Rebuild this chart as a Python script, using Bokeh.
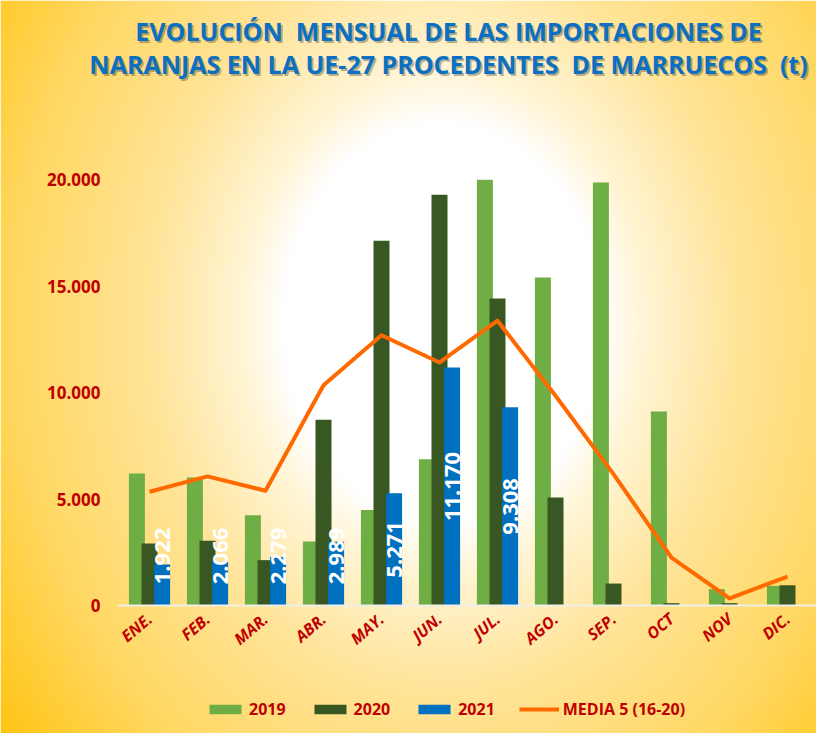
import numpy as np
from bokeh.plotting import figure
from bokeh.models import (Range1d, LinearAxis, FixedTicker, Label, Legend,
                          LegendItem, ColumnDataSource)
from bokeh.core.properties import value
from bokeh.embed import file_html
from bokeh.resources import INLINE

# ---------------- data ----------------
months = ["ENE.", "FEB.", "MAR.", "ABR.", "MAY.", "JUN.", "JUL.", "AGO.",
          "SEP.", "OCT", "NOV", "DIC."]
imp_2019 = [6200, 6010, 4240, 3000, 4480, 6870, 19990, 15400, 19860, 9110, 770, 920]
imp_2020 = [2910, 3040, 2130, 8720, 17120, 19280, 14410, 5070, 1030, 110, 110, 950]
imp_2021 = [1922, 2066, 2279, 2989, 5271, 11170, 9308]
media_5 = [5340, 6060, 5390, 10340, 12690, 11410, 13370, 9850, 6170, 2250, 330, 1360]
y_ticks = [0, 5000, 10000, 15000, 20000]
y_tick_labels = ["0", "5.000", "10.000", "15.000", "20.000"]
series_names = ["2019", "2020", "2021", "MEDIA 5 (16-20)"]
title_lines = ["EVOLUCIÓN\u00a0\u00a0MENSUAL DE LAS IMPORTACIONES DE",
               "NARANJAS EN LA UE-27 PROCEDENTES\u00a0\u00a0DE MARRUECOS\u00a0\u00a0(t)"]

# ---------------- layout geometry ----------------
W, H = 816, 733
OFF = 8                 # page margin
CAT0_PX = 157.0         # page x of first month centre
CAT_STEP = 58.0         # px per month
ZERO_PX = 613.0         # page y of value 0
PX_PER_T = 0.0213       # px per tonne


def data_x(px):
    return (px - CAT0_PX) / CAT_STEP


def data_y(py):
    return (ZERO_PX - py) / PX_PER_T


x0, x1 = data_x(OFF), data_x(OFF + W)
y0, y1 = data_y(OFF + H), data_y(OFF)

p = figure(width=W, height=H, x_range=Range1d(x0, x1), y_range=Range1d(y0, y1),
           output_backend="svg", toolbar_location=None, min_border=0,
           x_axis_type=None, y_axis_type=None)
p.outline_line_color = None
p.border_fill_color = "#FFD966"
p.background_fill_color = "#FFFFFF"

# ---------------- radial gradient background ----------------
nx, ny = W // 2, H // 2 + 1
px = OFF + (np.arange(nx) + 0.5) * W / nx
py = OFF + H - (np.arange(ny) + 0.5) * H / ny
PX, PY = np.meshgrid(px, py)
r = np.sqrt(((PX - 450) / 400.0) ** 2 + ((PY - 330) / 500.0) ** 2)
stops = [0, 0.40, 0.50, 0.74, 1.07, 1.45, 5]
gch = np.interp(r, stops, [255, 255, 245, 228, 216, 192, 192])
bch = np.interp(r, stops, [255, 255, 214, 152, 98, 0, 0])
img = np.empty((ny, nx), dtype=np.uint32)
view = img.view(dtype=np.uint8).reshape((ny, nx, 4))
view[..., 0] = 255
view[..., 1] = gch.astype(np.uint8)
view[..., 2] = bch.astype(np.uint8)
view[..., 3] = 255
p.image_rgba(image=[img], x=x0, y=y0, dw=x1 - x0, dh=y1 - y0)

# ---------------- bars ----------------
BAR_W = 16 / CAT_STEP
SHIFT = 12.6 / CAT_STEP
idx = np.arange(len(months))
idx21 = np.arange(len(imp_2021))

src19 = ColumnDataSource(dict(x=idx - SHIFT, top=imp_2019))
src20 = ColumnDataSource(dict(x=idx, top=imp_2020))
src21 = ColumnDataSource(dict(x=idx21 + SHIFT, top=imp_2021,
                              lab=[f"{v:,}".replace(",", ".") for v in imp_2021],
                              ly=np.maximum(np.array(imp_2021) / 2.0, data_y(563.5))))

r19 = p.vbar(x="x", top="top", width=BAR_W, source=src19,
             fill_color="#6EAE45", line_color=None)
r20 = p.vbar(x="x", top="top", width=BAR_W, source=src20,
             fill_color="#385723", line_color=None)
r21 = p.vbar(x="x", top="top", width=BAR_W, source=src21,
             fill_color="#0070C0", line_color=None)

p.text(x="x", y="ly", text="lab", source=src21, angle=np.pi / 2,
       text_align="center", text_baseline="middle", text_color="white",
       text_font=value("Open Sans"), text_font_style="bold", text_font_size="22px")

# ---------------- average line ----------------
rl = p.line(idx, media_5, line_color="#FF6A00", line_width=4, line_join="round")

# ---------------- axes ----------------
xaxis = LinearAxis(fixed_location=0, ticker=FixedTicker(ticks=list(idx)),
                   major_label_overrides={int(i): m for i, m in zip(idx, months)},
                   bounds=(data_x(125), data_x(825)))
xaxis.axis_line_color = "#F0EEE8"
xaxis.axis_line_width = 2
xaxis.major_tick_line_color = None
xaxis.minor_tick_line_color = None
xaxis.major_tick_out = 0
xaxis.major_tick_in = 0
xaxis.major_label_orientation = 0.7
xaxis.major_label_standoff = 11
xaxis.major_label_text_font = "Open Sans"
xaxis.major_label_text_font_style = "bold italic"
xaxis.major_label_text_font_size = "16px"
xaxis.major_label_text_color = "#C00000"
p.add_layout(xaxis, "below")

yaxis = LinearAxis(fixed_location=data_x(118), ticker=FixedTicker(ticks=y_ticks),
                   major_label_overrides=dict(zip(y_ticks, y_tick_labels)))
yaxis.axis_line_color = None
yaxis.major_tick_line_color = None
yaxis.minor_tick_line_color = None
yaxis.major_tick_out = 0
yaxis.major_tick_in = 0
yaxis.major_label_standoff = 10
yaxis.major_label_text_font = "Open Sans"
yaxis.major_label_text_font_style = "bold"
yaxis.major_label_text_font_size = "17px"
yaxis.major_label_text_color = "#C00000"
p.add_layout(yaxis, "left")

# ---------------- title ----------------
for line_text, ty in zip(title_lines, (38, 71)):
    p.add_layout(Label(x=data_x(458), y=data_y(ty + 2.5), text=line_text,
                       text_align="center", text_baseline="middle",
                       text_font="Open Sans", text_font_style="bold",
                       text_font_size="25px", text_color="#303030", text_alpha=0.35))
    p.add_layout(Label(x=data_x(456), y=data_y(ty), text=line_text,
                       text_align="center", text_baseline="middle",
                       text_font="Open Sans", text_font_style="bold",
                       text_font_size="25px", text_color="#0B6FC2"))

# ---------------- legend ----------------
legend = Legend(items=[LegendItem(label=series_names[0], renderers=[r19]),
                       LegendItem(label=series_names[1], renderers=[r20]),
                       LegendItem(label=series_names[2], renderers=[r21]),
                       LegendItem(label=series_names[3], renderers=[rl])],
                orientation="horizontal", location=(205, 13),
                glyph_width=40, glyph_height=12, spacing=24, label_standoff=4,
                padding=0, margin=0, background_fill_alpha=0, border_line_alpha=0,
                label_text_font="Open Sans", label_text_font_style="bold",
                label_text_font_size="16px", label_text_color="#C00000")
p.add_layout(legend)

open("out.html", "w").write(file_html(p, INLINE))
